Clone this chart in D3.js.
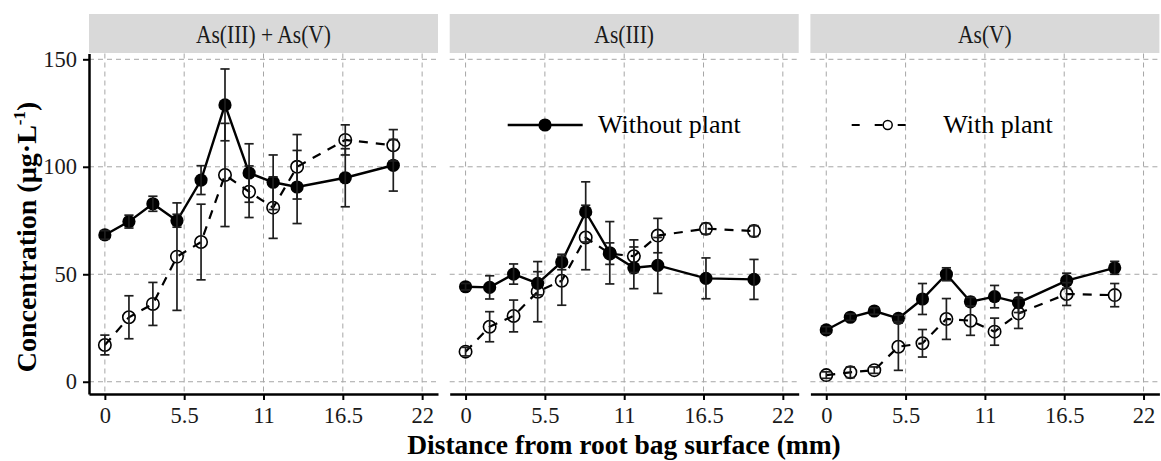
<!DOCTYPE html>
<html>
<head>
<meta charset="utf-8">
<script src="https://cdn.jsdelivr.net/npm/d3@7"></script>
<style>
  body { margin: 0; background: #fff; }
  text { font-family: "Liberation Serif", "Times New Roman", serif; }
</style>
</head>
<body>
<div id="chart"></div>
<script>
// distance from root bag surface (mm)
const distance = [0, 1.67, 3.33, 5, 6.67, 8.33, 10, 11.67, 13.33, 16.67, 20];
const panelNames = ["As(III) + As(V)", "As(III)", "As(V)"];
const xTicks = [0, 5.5, 11, 16.5, 22];
const yTicks = [0, 50, 100, 150];

// As(III) + As(V)
const totalWithout = [68.3, 74.5, 82.8, 74.9, 93.8, 128.8, 97.1, 92.8, 90.6, 94.9, 100.7];
const totalWithoutErr = [2, 3, 3.5, 3, 6.7, 16.7, 13.6, 12.7, 17, 13.5, 12];
const totalWith = [17.1, 30.0, 36.2, 58.2, 65.0, 96.2, 88.4, 81.0, 100.0, 112.5, 110.0];
const totalWithErr = [4.6, 10, 10, 25, 17.6, 24, 12, 14.3, 15, 7, 7.3];

// As(III)
const as3Without = [44.2, 43.9, 50.1, 45.8, 55.7, 79.0, 60.0, 53.0, 54.1, 48.1, 47.6];
const as3WithoutErr = [1.5, 5.4, 4.7, 5.4, 3.6, 14, 14.5, 9.7, 13, 9.5, 9.3];
const as3With = [14.0, 25.6, 30.6, 41.9, 47.0, 67.1, 59.6, 58.4, 68.0, 71.2, 70.1];
const as3WithErr = [2, 7, 7.4, 14, 11.4, 15, 5, 7.6, 8, 2.5, 2.5];

// As(V)
const as5Without = [24.1, 30.0, 32.9, 29.5, 38.5, 50.0, 37.2, 39.6, 36.8, 47.0, 53.0];
const as5WithoutErr = [1.5, 1.5, 1.5, 1.5, 7.2, 3, 2, 5.2, 4.6, 3.5, 3];
const as5With = [3.1, 4.4, 5.4, 16.3, 17.9, 29.2, 28.4, 23.3, 31.8, 40.8, 40.3];
const as5WithErr = [1.5, 2.5, 1.5, 11, 6.4, 9.5, 6.8, 6.3, 7, 5.3, 5.4];

const panelData = [
    { without: totalWithout, withoutErr: totalWithoutErr, with: totalWith, withErr: totalWithErr },
    { without: as3Without, withoutErr: as3WithoutErr, with: as3With, withErr: as3WithErr },
    { without: as5Without, withoutErr: as5WithoutErr, with: as5With, withErr: as5WithErr }
];

const panelLeft = 89, panelW = 349, panelGap = 11.7;
const stripTop = 14, plotTop = 53.5, plotBottom = 394;
const plotH = plotBottom - plotTop;

const svg = d3.select("#chart")
    .append("svg")
    .attr("width", 1161)
    .attr("height", 461);

const x = d3.scaleLinear().domain([-1.1, 23.1]).range([0, panelW]);
const y = d3.scaleLinear().domain([-5.7, 152.7]).range([plotH, 0]);

const toPoints = (vals, errs) => distance.map((d, i) => ({ d: d, v: vals[i], e: errs[i] }));

const line = d3.line()
    .x(p => x(p.d))
    .y(p => y(p.v));

panelData.forEach((pd, i) => {
    const g = svg.append("g")
        .attr("transform", `translate(${panelLeft + i * (panelW + panelGap)},${plotTop})`);

    // strip
    g.append("rect")
        .attr("x", 0)
        .attr("y", stripTop - plotTop)
        .attr("width", panelW)
        .attr("height", plotTop - stripTop - 0.5)
        .attr("fill", "#d9d9d9");
    g.append("text")
        .attr("transform", `translate(${panelW / 2},${43 - plotTop}) scale(1,1.18)`)
        .attr("text-anchor", "middle")
        .attr("font-size", 21.5)
        .attr("fill", "#1a1a1a")
        .text(panelNames[i]);

    // grid
    g.selectAll(".vgrid")
        .data(xTicks)
        .enter().append("line")
        .attr("x1", d => x(d)).attr("x2", d => x(d))
        .attr("y1", 0).attr("y2", plotH)
        .attr("stroke", "#a6a6a6")
        .attr("stroke-width", 1)
        .attr("stroke-dasharray", "5,4");
    g.selectAll(".hgrid")
        .data(yTicks)
        .enter().append("line")
        .attr("x1", 0).attr("x2", panelW)
        .attr("y1", d => y(d)).attr("y2", d => y(d))
        .attr("stroke", "#a6a6a6")
        .attr("stroke-width", 1)
        .attr("stroke-dasharray", "5,4");

    const withoutPts = toPoints(pd.without, pd.withoutErr);
    const withPts = toPoints(pd.with, pd.withErr);

    // lines
    g.append("path")
        .datum(withPts)
        .attr("d", line)
        .attr("fill", "none")
        .attr("stroke", "#000")
        .attr("stroke-width", 2.2)
        .attr("stroke-dasharray", "9,8");
    g.append("path")
        .datum(withoutPts)
        .attr("d", line)
        .attr("fill", "none")
        .attr("stroke", "#000")
        .attr("stroke-width", 2.4);

    // points
    g.selectAll(".open")
        .data(withPts)
        .enter().append("circle")
        .attr("cx", p => x(p.d))
        .attr("cy", p => y(p.v))
        .attr("r", 6.2)
        .attr("fill", "none")
        .attr("stroke", "#000")
        .attr("stroke-width", 1.6);
    g.selectAll(".filled")
        .data(withoutPts)
        .enter().append("circle")
        .attr("cx", p => x(p.d))
        .attr("cy", p => y(p.v))
        .attr("r", 6.6)
        .attr("fill", "#000");

    // error bars
    [withPts, withoutPts].forEach(pts => {
        const eb = g.selectAll(null)
            .data(pts)
            .enter().append("g")
            .attr("stroke", "#1e1e1e")
            .attr("stroke-width", 1.7);
        eb.append("line")
            .attr("x1", p => x(p.d)).attr("x2", p => x(p.d))
            .attr("y1", p => y(p.v - p.e)).attr("y2", p => y(p.v + p.e));
        eb.append("line")
            .attr("x1", p => x(p.d) - 4.6).attr("x2", p => x(p.d) + 4.6)
            .attr("y1", p => y(p.v - p.e)).attr("y2", p => y(p.v - p.e));
        eb.append("line")
            .attr("x1", p => x(p.d) - 4.6).attr("x2", p => x(p.d) + 4.6)
            .attr("y1", p => y(p.v + p.e)).attr("y2", p => y(p.v + p.e));
    });

    // x axis
    const xa = g.append("g")
        .attr("transform", `translate(0,${plotH})`)
        .call(d3.axisBottom(x).tickValues(xTicks).tickFormat(d3.format("")).tickSize(6).tickSizeOuter(0).tickPadding(7));
    xa.select(".domain").attr("stroke-width", 2.5);
    xa.selectAll(".tick line").attr("stroke-width", 2);
    xa.selectAll("text")
        .attr("font-size", 22.5)
        .attr("font-family", "Liberation Serif, serif")
        .attr("fill", "#1a1a1a");

    if (i === 0) {
        const ya = g.append("g")
            .call(d3.axisLeft(y).tickValues(yTicks).tickSize(6).tickSizeOuter(0).tickPadding(6));
        ya.select(".domain").attr("stroke-width", 2.5);
        ya.selectAll(".tick line").attr("stroke-width", 2);
        ya.selectAll("text")
            .attr("font-size", 22.5)
            .attr("font-family", "Liberation Serif, serif")
            .attr("fill", "#1a1a1a");
    }
});

// legend
const leg = svg.append("g");
leg.append("line")
    .attr("x1", 507.7).attr("x2", 582.7)
    .attr("y1", 125).attr("y2", 125)
    .attr("stroke", "#000").attr("stroke-width", 2.4);
leg.append("circle")
    .attr("cx", 545).attr("cy", 125).attr("r", 6.6)
    .attr("fill", "#000");
leg.append("text")
    .attr("x", 598).attr("y", 133)
    .attr("font-size", 26)
    .text("Without plant");

leg.append("line")
    .attr("x1", 851.7).attr("x2", 918)
    .attr("y1", 125).attr("y2", 125)
    .attr("stroke", "#000").attr("stroke-width", 2.2)
    .attr("stroke-dasharray", "8,15");
leg.append("circle")
    .attr("cx", 887.7).attr("cy", 125).attr("r", 4.5)
    .attr("fill", "#fff")
    .attr("stroke", "#000").attr("stroke-width", 1.5);
leg.append("text")
    .attr("x", 943.3).attr("y", 133)
    .attr("font-size", 26)
    .text("With plant");

// axis titles
svg.append("text")
    .attr("x", 624)
    .attr("y", 454)
    .attr("text-anchor", "middle")
    .attr("font-size", 27.5)
    .attr("font-weight", "bold")
    .text("Distance from root bag surface (mm)");

const yTitle = svg.append("text")
    .attr("transform", "translate(36,237) rotate(-90)")
    .attr("text-anchor", "middle")
    .attr("font-size", 28)
    .attr("font-weight", "bold");
yTitle.append("tspan").text("Concentration (µg·L");
yTitle.append("tspan").attr("font-size", 17).attr("dy", -11).text("-1");
yTitle.append("tspan").attr("dy", 11).text(")");
</script>
</body>
</html>
